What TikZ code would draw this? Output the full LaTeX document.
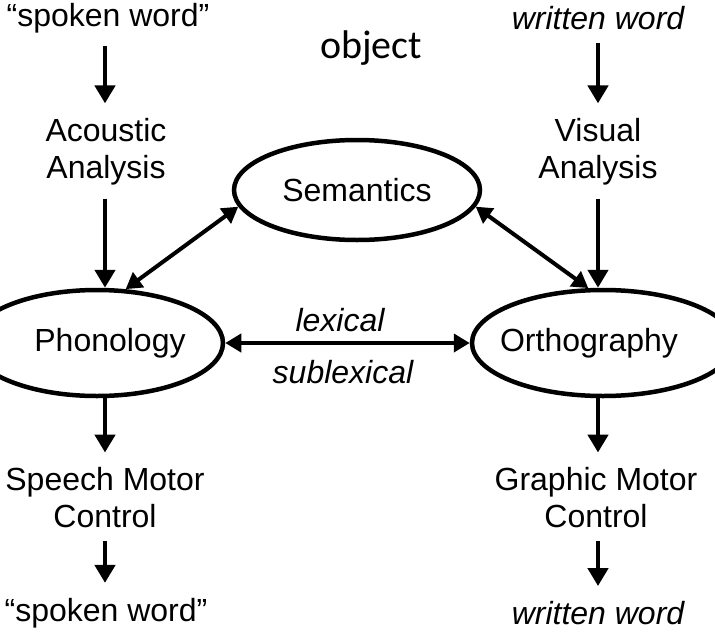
\documentclass[tikz,border=0pt]{standalone}
\usepackage{fontspec}
\setmainfont{Liberation Sans}
\newfontfamily\objfont{Carlito}
\usetikzlibrary{shapes.geometric,arrows.meta}
\begin{document}
\begin{tikzpicture}[x=1pt,y=-1pt,
 lbl/.style={font=\fontsize{32}{37}\selectfont, align=center, inner sep=0pt},
 oval/.style={ellipse, draw, line width=4.5pt, inner sep=0pt, font=\fontsize{32}{37}\selectfont},
 arr/.style={line width=4.5pt, -{Triangle[length=18pt,width=20pt]}},
 darr/.style={line width=4pt, {Triangle[length=16pt,width=18pt]}-{Triangle[length=16pt,width=18pt]}}]
\useasboundingbox (0,0) rectangle (715,637);
\clip (0,0) rectangle (715,637);
% left column
\node[lbl] (sw1) at (108,18) {“spoken word”};
\node[lbl] (aa) at (106,152) {Acoustic\\Analysis};
\node[oval, minimum width=252, minimum height=106,
      label={[lbl, xshift=13pt]center:Phonology}] (ph) at (97,343) {};
\node[lbl] (smc) at (105,498) {Speech Motor\\Control};
\node[lbl] (sw2) at (106,613) {“spoken word”};
% right column
\node[lbl, font=\fontsize{32}{37}\selectfont\itshape] (ww1) at (598,18) {written word};
\node[lbl] (va) at (598,152) {Visual\\Analysis};
\node[oval, minimum width=262, minimum height=106,
      label={[lbl, xshift=-14pt]center:Orthography}] (or) at (603,343) {};
\node[lbl] (gmc) at (596,498) {Graphic Motor\\Control};
\node[lbl, font=\fontsize{32}{37}\selectfont\itshape] (ww2) at (598,613) {written word};
% centre
\node[oval, minimum width=246, minimum height=100] (sem) at (357,190) {Semantics};
\node[inner sep=0pt, font=\objfont\fontsize{40}{46}\selectfont] (obj) at (371,48) {object};
\node[lbl, font=\fontsize{32}{37}\selectfont\itshape] (lex) at (340,320) {lexical};
\node[lbl, font=\fontsize{32}{37}\selectfont\itshape] (sublex) at (343,372) {sublexical};
% arrows
\draw[arr, shorten <=13pt, shorten >=15pt] (sw1.south -| 105,0) -- (aa.north -| 105,0);
\draw[arr, shorten <=13pt] (aa.south -| 105,0) -- (ph.north -| 105,0);
\draw[arr, shorten >=15pt] (ph.south -| 105,0) -- (smc.north -| 105,0);
\draw[arr, shorten <=13pt, shorten >=15pt] (smc.south -| 105,0) -- (sw2.north -| 105,0);
\draw[arr, shorten <=13pt, shorten >=15pt] (ww1.south -| 598,0) -- (va.north -| 598,0);
\draw[arr, shorten <=13pt] (va.south -| 598,0) -- (or.north -| 598,0);
\draw[arr, shorten >=15pt] (or.south -| 598,0) -- (gmc.north -| 598,0);
\draw[arr, shorten <=13pt, shorten >=15pt] (gmc.south -| 598,0) -- (ww2.north -| 598,0);
\draw[darr] (sem.188) -- (ph.62);
\draw[darr] (sem.-8) -- (or.105);
\draw[darr] (ph.east) -- (or.west);
\end{tikzpicture}
\end{document}
